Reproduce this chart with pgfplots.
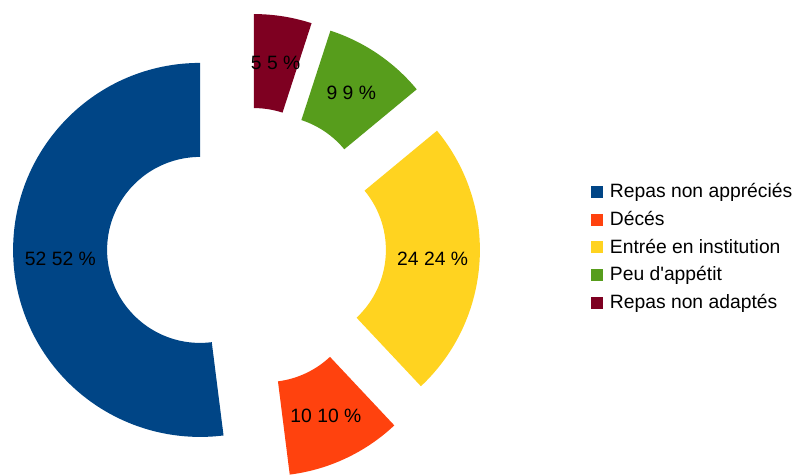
\documentclass[border=0pt]{standalone}
\usepackage{pgfplots}
\pgfplotsset{compat=1.18}
\usepackage{pgfplotstable}
\usepackage{fontspec}
\setmainfont{Liberation Sans}

\definecolor{cA}{HTML}{004586}
\definecolor{cB}{HTML}{FF420E}
\definecolor{cC}{HTML}{FFD320}
\definecolor{cD}{HTML}{579D1C}
\definecolor{cE}{HTML}{7E0021}

% parts of the donut, counter-clockwise from the top
\pgfplotstableread[col sep=comma]{
label,value,col
Repas non appréciés,52,cA
Décés,10,cB
Entrée en institution,24,cC
Peu d\textquotesingle appétit,9,cD
Repas non adaptés,5,cE
}\donut

\begin{document}
\begin{tikzpicture}[font=\fontsize{9.65}{11}\selectfont]
\begin{axis}[
  width=398pt, height=235pt, scale only axis,
  xmin=0, xmax=796, ymin=0, ymax=470,
  hide axis, clip=false,
]
\pgfplotsextra{
  \path (axis cs:0,0) rectangle (axis cs:796,470);
  \pgfplotstablegetrowsof{\donut}
  \pgfmathtruncatemacro\last{\pgfplotsretval-1}
  \xdef\angA{90}
  \foreach \i in {0,...,\last}{
    \pgfplotstablegetelem{\i}{value}\of\donut \let\val=\pgfplotsretval
    \pgfplotstablegetelem{\i}{label}\of\donut \let\lab=\pgfplotsretval
    \pgfplotstablegetelem{\i}{col}\of\donut \let\col=\pgfplotsretval
    \pgfmathsetmacro\angB{\angA+3.6*\val}
    \pgfmathsetmacro\angM{(\angA+\angB)/2}
    \pgfmathsetmacro\ox{246.5+46.5*cos(\angM)}
    \pgfmathsetmacro\oy{223+46.5*sin(\angM)}
    \coordinate (c) at (axis cs:\ox,\oy);
    \fill[\col] (c) ++(\angA:93.5pt)
      arc[start angle=\angA, end angle=\angB, radius=93.5pt]
      -- ++({\angB+180}:47pt)
      arc[start angle=\angB, end angle=\angA, radius=46.5pt] -- cycle;
    \node at (axis cs:{246.5+186.5*cos(\angM)},{223+186.5*sin(\angM)}) {\val{} \val{} \%};
    % legend
    \fill[\col] (axis cs:591,{470-186-27.7*\i}) rectangle (axis cs:603,{470-198-27.7*\i});
    \node[anchor=base west, inner sep=0pt] at (axis cs:609.5,{470-197.7-27.7*\i}) {\lab};
    \xdef\angA{\angB}
  }
}
\end{axis}
\end{tikzpicture}
\end{document}
